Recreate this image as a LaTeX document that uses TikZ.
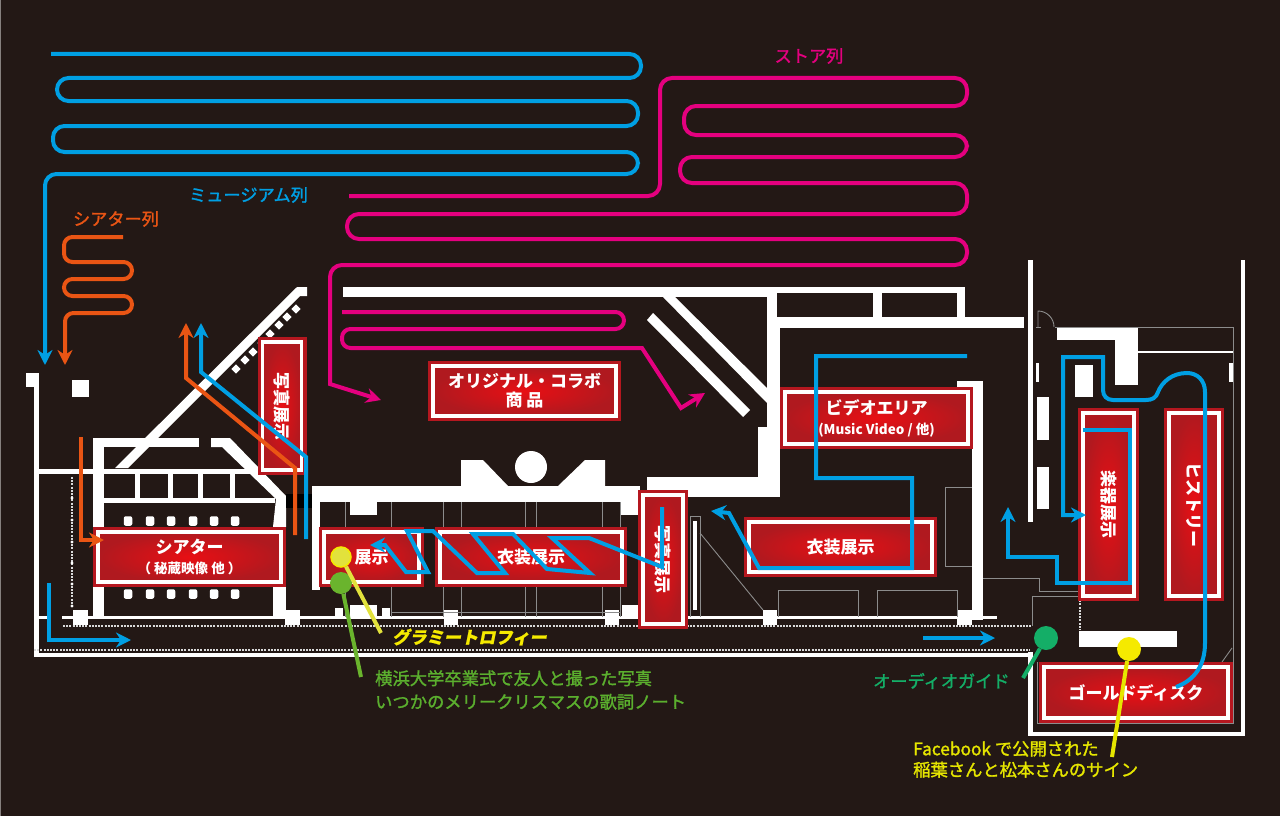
\documentclass[tikz,border=0pt]{standalone}
\usepackage{fontspec}
\setmainfont{Noto Sans CJK JP}
\newfontfamily\jpslant[BoldFeatures={FakeSlant=0.2,FakeBold=1}]{Noto Sans CJK JP}
\newfontfamily\jplabel[FakeBold=1.5]{Noto Sans CJK JP}
\usetikzlibrary{arrows.meta, shapes.geometric}
\definecolor{bgdark}{HTML}{231815}
\definecolor{boxedge}{HTML}{B5171F}
\definecolor{boxin}{HTML}{E80F14}
\definecolor{boxout}{HTML}{B0191F}
\definecolor{qblue}{HTML}{009FE3}
\definecolor{qpink}{HTML}{E4007F}
\definecolor{qorange}{HTML}{EA5514}
\definecolor{dotgreen}{HTML}{6AB42D}
\definecolor{txtgreen}{HTML}{5BAF2E}
\definecolor{dotolive}{HTML}{E2E23C}
\definecolor{guidegreen}{HTML}{14AE67}
\definecolor{signyellow}{HTML}{E6E600}
\definecolor{pinyellow}{HTML}{F5EA00}
\tikzset{
  wall/.style={fill=white, draw=none},
  thinline/.style={draw=white!55!black, line width=0.9pt},
  dashline/.style={draw=white!85!black, line width=1.3pt, dash pattern=on 2pt off 1.2pt},
  exhibit/.style={draw=white, line width=3.6pt, inner color=boxin, outer color=boxout,
    preaction={draw=boxedge, line width=10pt}, inner sep=0pt, text=white, align=center,
    font=\bfseries\fontsize{17}{21}\selectfont},
  seat/.style={fill=white, rounded corners=2pt, minimum width=8.5pt, minimum height=9.5pt, inner sep=0pt},
  tick/.style={fill=white, rotate=45, minimum size=6.5pt, inner sep=0pt},
  qarrow/.style={line width=4pt, -{Stealth[length=15pt,width=15pt]}},
  queueblue/.style={qarrow, draw=qblue},
  queuepink/.style={qarrow, draw=qpink},
  queueorange/.style={qarrow, draw=qorange},
  queuelabel/.style={font=\jplabel\fontsize{17.2}{21}\selectfont, inner sep=0pt, align=left},
  pin/.style={circle, inner sep=0pt, minimum size=#1},
  leader/.style={line width=4pt}
}
\newcommand{\smalltext}{\fontsize{13.5}{17}\selectfont}
\begin{document}
\begin{tikzpicture}[x=1pt, y=-1pt, >=stealth]
  \useasboundingbox (0,0) rectangle (1280,816);
  \fill[bgdark, draw=white!45!bgdark, line width=1pt] (0,0) rectangle (1280,816);

  % outer and inner walls
  \foreach \xa/\ya/\xb/\yb in {26/373/38/387, 72/380/89/397, 34/373/39/657, 38/469/250/474,
      93/438/104/527, 93/587/104/617, 93/438/199/447, 104/498/275/503,
      135/473/140/498, 168/473/173/498, 198/473/203/498, 230/473/235/498,
      273/587/286/617, 34/616/47/619, 62/616/997/619, 34/653/1033/657,
      73/610/88/625, 285/610/300/625, 444/610/458/625, 605/610/619/625,
      335/608/343/618, 350/605/377/618, 382/608/390/617, 622/605/638/618,
      763/610/777/625, 957/610/972/625,
      312/486/640/502, 312/486/320/590, 350/502/377/515, 620/502/638/515, 647/477/780/497,
      343/287/775/297, 775/287/965/293, 767/287/777/320, 873/293/882/320, 957/287/965/320,
      775/317/1024/328, 767/317/780/497, 758/427/780/497,
      957/381/983/387, 972/381/983/620,
      1028/260/1033/522, 1028/652/1033/736, 1028/732/1245/736, 1241/260/1245/736,
      1057/327/1138/340, 1115/340/1138/385, 1075/365/1093/397, 1229/363/1233/382,
      1036/363/1039/382, 1037/397/1049/440, 1037/467/1049/509, 1079/631/1177/647,
      693/521/697/610, 1138/351/1233/353}
    \fill[wall] (\xa,\ya) rectangle (\xb,\yb);
  \fill[wall] (115,468) -- (297,287) -- (307,287) -- (307,296) -- (300,296) -- (128,468) -- cycle;
  \fill[wall] (211,438) -- (230,438) -- (286,496) -- (286,527) -- (273,527) -- (276,499) -- (222,447) -- (211,447) -- cycle;
  \fill[wall] (461,460) -- (483,460) -- (508,486) -- (461,486) -- cycle;
  \fill[wall] (558,486) -- (585,460) -- (605,460) -- (605,486) -- cycle;
  \fill[wall] (531,467) circle (16);
  \fill[wall] (663,297) -- (675,297) -- (767,388) -- (767,403) -- cycle;
  \fill[wall] (647,320) -- (653,313) -- (750,410) -- (743,417) -- cycle;
  \fill[black] (286,494) rectangle (312,508);

  % thin fixtures
  \draw[dashline] (63,626) -- (1032,626);
  \draw[dashline] (34,650) -- (1030,650);
  \draw[dashline] (1080,597) -- (1080,630);
  \draw[dashline] (72,477) -- (72,607);
  \foreach \y in {498,520,542,563,584,606}
    \fill[wall] (72,\y) circle (1.6);
  \foreach \x in {345,391,443,461,525,536,602,620} {
    \draw[thinline] (\x,502) -- (\x,527);
    \draw[thinline] (\x,587) -- (\x,617);
  }
  \draw[thinline] (391,612) -- (620,612);
  \draw[thinline] (778,617) -- (778,590) -- (858,590) -- (858,617);
  \draw[thinline] (877,617) -- (877,590) -- (957,590) -- (957,617);
  \draw[thinline] (972,487) -- (945,487) -- (945,566) -- (972,566);
  \draw[thinline] (690,617) -- (690,516) -- (700,516) -- (700,617);
  \draw[thinline] (700,533) -- (763,610);
  \draw[thinline] (983,578) -- (1039,578) -- (1039,591) -- (1078,591);
  \draw[thinline] (1078,596) -- (1032,596) -- (1032,626);
  \draw[thinline] (1055,327) -- (1233,327) -- (1233,723) -- (1037,723) -- (1037,662);
  \draw[thinline] (1222,662) -- (1232,648);
  \draw[thinline] (1036,327) -- (1041,327);
  \draw[thinline] (1038,327) -- (1038,311) arc (-90:0:16);

  % seats and ticks
  \foreach \x [count=\i] in {128,150,171,193,214,235} {
    \node[seat] (seatup\i) at (\x,521) {};
    \node[seat] (seatdn\i) at (\x,594) {};
  }
  \foreach \x/\y [count=\i] in {236/369,245/360,253/352,262/343,270/334,279/325,287/317,296/309}
    \node[tick] (tick\i) at (\x,\y) {};

  % exhibit boxes
  \node[exhibit, minimum width=183pt, minimum height=50pt] (theater) at (189.5,557)
    {シアター\\[-1pt]{\smalltext （ 秘蔵映像 他 ）}};
  \node[exhibit, rotate=-90, minimum width=128pt, minimum height=39pt] (photoa) at (282,406) {写真展示};
  \node[exhibit, minimum width=95pt, minimum height=50pt] (small) at (371.5,557) {展示};
  \node[exhibit, minimum width=182pt, minimum height=50pt] (costumea) at (531,557) {衣装展示};
  \node[exhibit, rotate=-90, minimum width=129pt, minimum height=40pt] (photob) at (663,559.5) {写真展示};
  \node[exhibit, minimum width=183pt, minimum height=50pt] (original) at (524.5,391)
    {オリジナル・コラボ\\[-2pt]商 品};
  \node[exhibit, minimum width=183pt, minimum height=52pt] (video) at (876.5,418)
    {ビデオエリア\\[-1pt]{\smalltext (Music Video / 他)}};
  \node[exhibit, minimum width=183pt, minimum height=50pt] (costumeb) at (840.5,547) {衣装展示};
  \node[exhibit, rotate=-90, minimum width=183pt, minimum height=51pt] (instr) at (1108.5,504.5) {楽器展示};
  \node[exhibit, rotate=-90, minimum width=183pt, minimum height=50pt] (history) at (1194,504.5) {ヒストリー};
  \node[exhibit, minimum width=184pt, minimum height=51pt] (gold) at (1136,692.5) {ゴールドディスク};

  % museum queue
  \draw[queueblue, rounded corners=11.5] (51,54) -- (641,54) -- (641,78) -- (57,78) -- (57,101)
    -- (638,101) -- (638,126) -- (53,126) -- (53,152) -- (638,152) -- (638,174) -- (45,174) -- (45,365);
  \draw[queueblue] (306,539) -- (306,457) -- (201,372) -- (201,323);
  \draw[queueblue] (49,583) -- (49,640) -- (131,640);
  \draw[queueblue] (662,507) -- (662,567) -- (589,538) -- (552,538) -- (590,573) -- (547,569) -- (513,534)
    -- (473,534) -- (505,573) -- (477,573) -- (433,531) -- (407,531) -- (428,572) -- (406,572) -- (385,545) -- (370,545);
  \draw[queueblue] (967,356) -- (816,356) -- (816,478) -- (912,478) -- (912,568) -- (759,568) -- (729,513) -- (711,511);
  \draw[queueblue] (923,638) -- (995,638);
  \draw[queueblue] (1176,687) .. controls (1195,680) and (1205,665) .. (1205,643) -- (1205,392)
    .. controls (1205,380) and (1197,373) .. (1187,373) .. controls (1172,373) and (1162,382) .. (1158,392)
    .. controls (1156,398) and (1152,400) .. (1146,400) -- (1113,400)
    .. controls (1107,400) and (1103,396) .. (1103,390) -- (1103,357) -- (1063,357) -- (1063,515) -- (1086,515);
  \draw[queueblue] (1083,430) -- (1130,430) -- (1130,583) -- (1057,583) -- (1057,557) -- (1008,557) -- (1008,507);

  % store queue
  \draw[queuepink, rounded corners=12] (349,196) -- (660,196) -- (660,78) -- (967,78) -- (967,106) -- (684,106)
    -- (684,135) -- (967,135) -- (967,157) -- (680,157) -- (680,183) -- (967,183) -- (967,214) -- (347,214)
    -- (347,239) -- (967,239) -- (967,265) -- (330,265) -- (330,300) [sharp corners] -- (330,384) -- (381,400);
  \draw[queuepink, rounded corners=8.5] (342,312) -- (624,312) -- (624,329) -- (342,329) -- (342,348)
    -- (630,348) [sharp corners] -- (642,348) -- (681,408) -- (705,393);

  % theater queue
  \draw[queueorange, rounded corners=8.5] (123,237) -- (64,237) -- (64,262) -- (132,262) -- (132,279) -- (64,279)
    -- (64,296) -- (132,296) -- (132,313) -- (65,313) -- (65,365);
  \draw[queueorange] (295,535) -- (295,468) -- (186,378) -- (186,323);
  \draw[queueorange] (81,437) -- (81,540) -- (104,540);

  % queue labels
  \node[queuelabel, text=qblue] (museumq) at (248.5,195) {ミュージアム列};
  \node[queuelabel, text=qpink] (storeq) at (809,56) {ストア列};
  \node[queuelabel, text=qorange] (theaterq) at (116,219) {シアター列};

  % pins and their notes
  \node[pin=22pt, fill=dotgreen] (photopin) at (341,583) {};
  \node[pin=20pt, fill=dotolive, draw=pinyellow, line width=1.5pt] (grammypin) at (341,557) {};
  \node[pin=24pt, fill=guidegreen] (guidepin) at (1046,638) {};
  \node[pin=24pt, fill=pinyellow] (signpin) at (1129,649) {};
  \coordinate (grammyend) at (381,633);
  \coordinate (photoend) at (361,677);
  \coordinate (guideend) at (1023,678);
  \coordinate (signend) at (1112,757);
  \draw[leader, dotolive] (grammypin) -- (grammyend);
  \draw[leader, dotgreen] (photopin) -- (photoend);
  \draw[leader, guidegreen] (guidepin) -- (guideend);
  \draw[leader, signyellow] (signpin) -- (signend);

  \node[anchor=west, inner sep=0pt, text=pinyellow, font=\jpslant\bfseries\fontsize{17.2}{21}\selectfont] (grammy) at (392,637) {グラミートロフィー};
  \node[queuelabel, anchor=north west, text=txtgreen, font=\jplabel\fontsize{17.3}{23.5}\selectfont] (photonote) at (375,670)
    {横浜大学卒業式で友人と撮った写真\\いつかのメリークリスマスの歌詞ノート};
  \node[queuelabel, anchor=west, text=guidegreen] (guide) at (873,681) {オーディオガイド};
  \node[queuelabel, anchor=north west, text=signyellow, font=\jplabel\fontsize{17.3}{21}\selectfont] (signnote) at (913,741)
    {Facebook で公開された\\稲葉さんと松本さんのサイン};
\end{tikzpicture}
\end{document}
